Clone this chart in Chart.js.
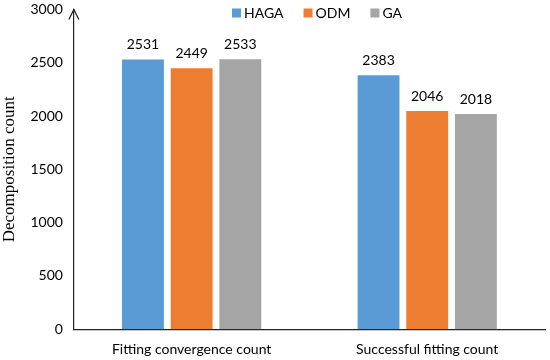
<!DOCTYPE html>
<html>
<head>
<meta charset="utf-8">
<script src="https://cdn.jsdelivr.net/npm/chart.js@4"></script>
<style>
  html, body { margin: 0; padding: 0; background: #fff; overflow: hidden; }
  #wrap { width: 550px; height: 370px; margin-top: -10px; }
</style>
</head>
<body>
<div id="wrap"><canvas id="bar-canvas"></canvas></div>
<script>
var categories = ["Fitting convergence count", "Successful fitting count"];
var hagaValues = [2531, 2383];
var odmValues = [2449, 2046];
var gaValues = [2533, 2018];
var yTicks = [0, 500, 1000, 1500, 2000, 2500, 3000];

var uiFont = "Lato, 'Open Sans', sans-serif";

// numbers on top of the bars
var barLabels = {
    id: "barLabels",
    afterDatasetsDraw: function(chart) {
        var ctx = chart.ctx;
        ctx.save();
        ctx.font = "14px " + uiFont;
        ctx.fillStyle = "#000";
        ctx.textAlign = "center";
        ctx.textBaseline = "bottom";
        chart.data.datasets.forEach(function(ds, i) {
            chart.getDatasetMeta(i).data.forEach(function(bar, j) {
                ctx.fillText(ds.data[j], bar.x, bar.y - 8);
            });
        });
        ctx.restore();
    }
};

// small legend up top, inside the plot (canvas sits 10px above the page)
var topLegend = {
    id: "topLegend",
    afterDraw: function(chart) {
        var ctx = chart.ctx;
        var x = 232, y = 23;
        ctx.save();
        ctx.font = "14px " + uiFont;
        ctx.textBaseline = "middle";
        chart.data.datasets.forEach(function(ds) {
            ctx.fillStyle = ds.backgroundColor;
            ctx.fillRect(x, y - 4.5, 9, 9);
            ctx.fillStyle = "#000";
            ctx.fillText(ds.label, x + 12, y);
            x += 12 + ctx.measureText(ds.label).width + 20;
        });
        ctx.restore();
    }
};

// arrow head on the y axis
var axisArrow = {
    id: "axisArrow",
    afterDraw: function(chart) {
        var ctx = chart.ctx;
        var x = chart.chartArea.left;
        var top = chart.chartArea.top;
        ctx.save();
        ctx.strokeStyle = "#222";
        ctx.lineWidth = 1.2;
        ctx.beginPath();
        ctx.moveTo(x - 5, top + 10);
        ctx.lineTo(x, top);
        ctx.lineTo(x + 5, top + 10);
        ctx.stroke();
        ctx.restore();
    }
};

var barData = {
    labels: categories,
    datasets: [{
        label: "HAGA",
        backgroundColor: "#5B9BD5",
        data: hagaValues
    },
    {
        label: "ODM",
        backgroundColor: "#ED7D31",
        data: odmValues
    },
    {
        label: "GA",
        backgroundColor: "#A5A5A5",
        data: gaValues
    }]
};

var barOptions = {
    responsive: true,
    maintainAspectRatio: false,
    animation: false,
    categoryPercentage: 0.62,
    barPercentage: 0.86,
    layout: { padding: { top: -12, right: 5, left: -1, bottom: -10 } },
    plugins: {
        legend: { display: false },
        tooltip: { enabled: false }
    },
    scales: {
        x: {
            grid: { display: false, drawTicks: false },
            border: { display: true, color: "#222", width: 1.2 },
            ticks: { color: "#000", padding: 12, font: { family: uiFont, size: 14 } }
        },
        y: {
            min: 0,
            max: 3000,
            afterBuildTicks: function(axis) {
                axis.ticks = yTicks.map(function(v) { return { value: v }; });
            },
            grid: { display: false, drawTicks: false },
            border: { display: true, color: "#222", width: 1.2 },
            ticks: {
                color: "#000",
                padding: 11,
                font: { family: uiFont, size: 14 },
                callback: function(v) { return String(v); }
            },
            title: {
                display: true,
                text: "Decomposition count",
                color: "#000",
                padding: { top: 0, bottom: 0 },
                font: { family: "'Liberation Serif', serif", size: 17 }
            }
        }
    }
};

var barChart = new Chart(document.getElementById("bar-canvas"), {
    type: "bar",
    data: barData,
    options: barOptions,
    plugins: [barLabels, topLegend, axisArrow]
});
</script>
</body>
</html>
